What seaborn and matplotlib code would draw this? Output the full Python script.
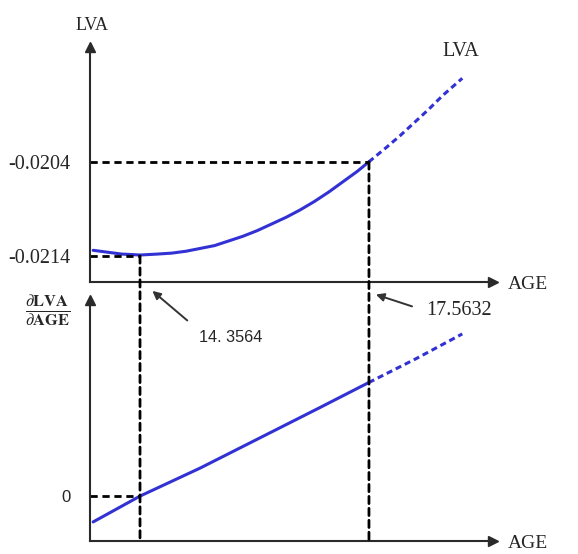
import numpy as np
import pandas as pd
import seaborn as sns
from matplotlib import pyplot as plt
from matplotlib.patches import ConnectionPatch

# values
age_top = [13.70, 13.90, 14.10, 14.36, 14.60, 14.80, 15.00, 15.20, 15.40, 15.60, 15.80,
           16.00, 16.20, 16.40, 16.60, 16.80, 17.00, 17.20, 17.40, 17.56, 17.80, 18.00,
           18.20, 18.40, 18.60, 18.87]
lva = [-0.02134, -0.02136, -0.02138, -0.02139, -0.02138, -0.02137, -0.02135, -0.02132,
       -0.02129, -0.02124, -0.02119, -0.02113, -0.02106, -0.02099, -0.02091, -0.02082,
       -0.02072, -0.02061, -0.02050, -0.02040, -0.02025, -0.02012, -0.01998, -0.01984,
       -0.01969, -0.01951]
age_bot = [13.70, 14.36, 15.20, 16.04, 16.88, 17.56, 18.22, 18.87]
dlva = [-0.000143, 0.0, 0.000154, 0.000321, 0.000488, 0.000625, 0.000756, 0.000893]

AGE_MIN = 14.3564
AGE_CROSS = 17.5632
LVA_MIN = -0.0214
LVA_CROSS = -0.0204

BLUE = '#3232d4'
AX_COL = '#2a2a2a'
DASH = (0, (2.6, 1.7))

sns.set_style('white')
plt.rcParams['font.family'] = ['Liberation Serif', 'DejaVu Serif']
plt.rcParams['mathtext.fontset'] = 'stix'

fig = plt.figure(figsize=(5.78, 5.54), dpi=100)
ax1 = fig.add_axes([0.1557, 0.491, 0.6972, 0.4242])
ax2 = fig.add_axes([0.1557, 0.0235, 0.6972, 0.435])

split_t = age_top.index(17.56)
split_b = age_bot.index(17.56)
sns.lineplot(x=age_top[:split_t + 1], y=lva[:split_t + 1], ax=ax1, color=BLUE, lw=2.2)
sns.lineplot(x=age_top[split_t:], y=lva[split_t:], ax=ax1, color=BLUE, lw=2.2,
             linestyle=(0, (2, 1.3)))
sns.lineplot(x=age_bot[:split_b + 1], y=dlva[:split_b + 1], ax=ax2, color=BLUE, lw=2.2)
sns.lineplot(x=age_bot[split_b:], y=dlva[split_b:], ax=ax2, color=BLUE, lw=2.2,
             linestyle=(0, (2, 1.3)))

xlim = (13.656, 19.30)
ax1.set_xlim(*xlim)
ax2.set_xlim(*xlim)
ax1.set_ylim(-0.021677, -0.019177)
ax2.set_ylim(-0.000248, 0.00108)

for ax in (ax1, ax2):
    sns.despine(ax=ax)
    for s in ('left', 'bottom'):
        ax.spines[s].set_color(AX_COL)
        ax.spines[s].set_linewidth(1.5)
    ax.set_xticks([])
    ax.set_xlabel('')
    ax.set_ylabel('')
    ax.plot(1, 0, '>', color=AX_COL, ms=7, transform=ax.transAxes, clip_on=False)
    ax.plot(0, 1, '^', color=AX_COL, ms=7, transform=ax.transAxes, clip_on=False)
    ax.tick_params(axis='y', length=0)

# dashed guide lines
ax1.hlines(LVA_CROSS, xlim[0], AGE_CROSS, color='black', lw=2.0, linestyle=DASH)
ax1.hlines(LVA_MIN, xlim[0], AGE_MIN, color='black', lw=2.0, linestyle=DASH)
ax2.hlines(0, xlim[0], AGE_MIN, color='black', lw=2.0, linestyle=DASH)
for xv, yv in ((AGE_MIN, LVA_MIN), (AGE_CROSS, LVA_CROSS)):
    con = ConnectionPatch(xyA=(xv, yv), coordsA=ax1.transData,
                          xyB=(xv, ax2.get_ylim()[0]), coordsB=ax2.transData,
                          color='black', lw=2.0, linestyle=DASH)
    fig.add_artist(con)

# tick labels
ax1.set_yticks([LVA_CROSS, LVA_MIN])
ax1.set_yticklabels(['-0.0204', '-0.0214'])
ax1.tick_params(axis='y', pad=14, labelsize=14.5)
ax2.set_yticks([0])
ax2.set_yticklabels(['0'], fontfamily='Liberation Sans')
ax2.tick_params(axis='y', pad=14, labelsize=12)

# axis names
ax1.text(0.005, 1.09, 'LVA', transform=ax1.transAxes, ha='center', va='center', fontsize=13)
ax1.text(0.92, 0.981, 'LVA', transform=ax1.transAxes, ha='center', va='center', fontsize=14.5)
ax1.text(1.087, -0.01, 'AGE', transform=ax1.transAxes, ha='center', va='center', fontsize=14)
ax2.text(1.087, -0.012, 'AGE', transform=ax2.transAxes, ha='center', va='center', fontsize=14)
ax2.text(-0.104, 0.954, r'$\frac{\partial\mathbf{LVA}}{\partial\mathbf{AGE}}$',
         transform=ax2.transAxes, ha='center', va='center', fontsize=17)

# pointers to the two ages
ax2.annotate('14. 3564', xy=(14.53, 0.00113), xytext=(15.183, 0.000871),
             ha='left', va='center', fontsize=11.7, fontfamily='Liberation Sans',
             annotation_clip=False,
             arrowprops=dict(arrowstyle='-|>', color='#333333', lw=1.4,
                             relpos=(0, 1), shrinkA=8, shrinkB=0, mutation_scale=12))
ax2.annotate('17.5632', xy=(17.66, 0.00111), xytext=(18.36, 0.00102),
             ha='left', va='center', fontsize=14.5,
             annotation_clip=False,
             arrowprops=dict(arrowstyle='-|>', color='#333333', lw=1.4,
                             relpos=(0, 0.5), shrinkA=8, shrinkB=0, mutation_scale=12))

fig.savefig('out.png', dpi=100, facecolor='white')
